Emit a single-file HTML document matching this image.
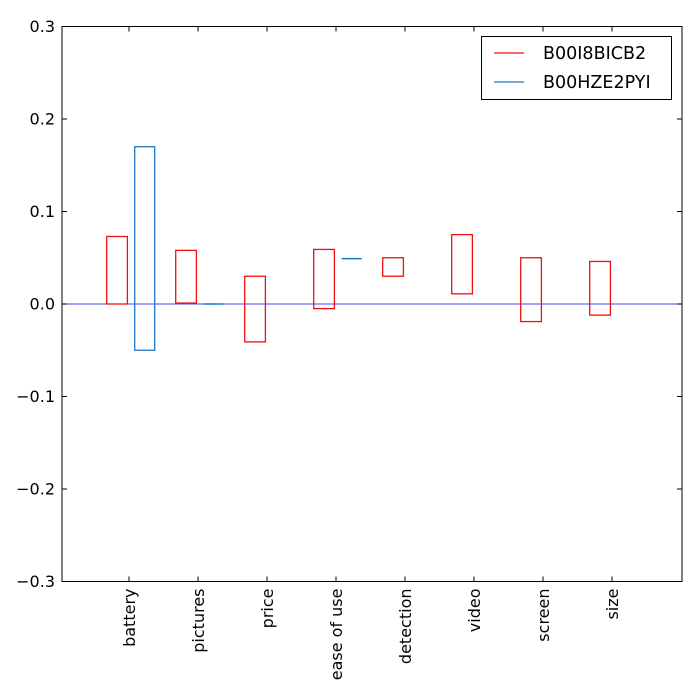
<!DOCTYPE html>
<html><head><meta charset="utf-8"><style>
html,body{margin:0;padding:0;background:#fff;}
svg{display:block;font-family:"DejaVu Sans","Liberation Sans",sans-serif;}
</style></head><body>
<svg id="chart" width="700" height="700"></svg>
<script>
const categories=["battery","pictures","price","ease of use","detection","video","screen","size"];
const redLow=[0,0.001,-0.041,-0.005,0.030,0.011,-0.019,-0.012];
const redHigh=[0.073,0.058,0.030,0.059,0.050,0.075,0.050,0.046];
const blueLow=[-0.05,0,null,0.049,null,null,null,null];
const blueHigh=[0.17,0,null,0.049,null,null,null,null];
const yTicks=["-0.3","-0.2","-0.1","0.0","0.1","0.2","0.3"];
const NS="http://www.w3.org/2000/svg";
const svg=document.getElementById('chart');
const L=62,R=682,T=26.5,B=581.5;
function y(v){return 304-v*925;}
function x(i){return 129+i*69;}
function mk(t,a,p){const e=document.createElementNS(NS,t);for(const k in a)e.setAttribute(k,a[k]);(p||svg).appendChild(e);return e;}
const g=mk('g',{});


const zl=mk('line',{x1:L,x2:R,y1:y(0),y2:y(0),stroke:'#4444ff','stroke-width':1},g);


function bar(i,lo,hi,off,w,col,name){
  const y1=y(hi),y2=y(lo);
  let e;
  if(Math.abs(y2-y1)<0.5){e=mk('line',{x1:x(i)+off,x2:x(i)+off+w,y1:y1,y2:y1,stroke:col,'stroke-width':1.5},g);}
  else e=mk('rect',{x:x(i)+off,y:y1,width:w,height:y2-y1,fill:'none',stroke:col,'stroke-width':1.3},g);
  
  
}
categories.forEach((c,i)=>{
  bar(i,redLow[i],redHigh[i],-22.3,20.7,'#ee1111','bar-red-'+i);
  if(blueLow[i]!==null) bar(i,blueLow[i],blueHigh[i],5.7,20,'#1f77c4','bar-blue-'+i);
  const tk=mk('line',{x1:x(i),x2:x(i),y1:B,y2:B-5,stroke:'#000'});
  
  
  const tk2=mk('line',{x1:x(i),x2:x(i),y1:T,y2:T+5,stroke:'#000'});
  
  
  const t=mk('text',{transform:`translate(${x(i)+6},${B+7}) rotate(-90)`,'text-anchor':'end','font-size':16});
  t.textContent=c;
  
  
});
yTicks.forEach(s=>{
  const v=parseFloat(s),yy=y(v);
  const a=mk('line',{x1:L,x2:L+5,y1:yy,y2:yy,stroke:'#000'});
  
  
  const b=mk('line',{x1:R,x2:R-5,y1:yy,y2:yy,stroke:'#000'});
  
  
  const t=mk('text',{x:L-7,y:yy+5.5,'text-anchor':'end','font-size':16});
  t.textContent=s.replace('-','\u2212');
  
  
});
const fr=mk('rect',{x:L,y:T,width:R-L,height:B-T,fill:'none',stroke:'#000','stroke-width':1});


const lg=mk('g',{});


mk('rect',{x:481.5,y:36.5,width:190,height:63,fill:'#fff',stroke:'#000'},lg);
[['B00I8BICB2','#ee1111',53],['B00HZE2PYI','#1f77c4',82]].forEach(([n,c,yy])=>{
  const l=mk('line',{x1:494,x2:524,y1:yy,y2:yy,stroke:c,'stroke-width':1.3},lg);
  
  
  const t=mk('text',{x:543,y:yy+6,'font-size':17.5},lg);
  t.textContent=n;
  
  
});
</script>
</body></html>
